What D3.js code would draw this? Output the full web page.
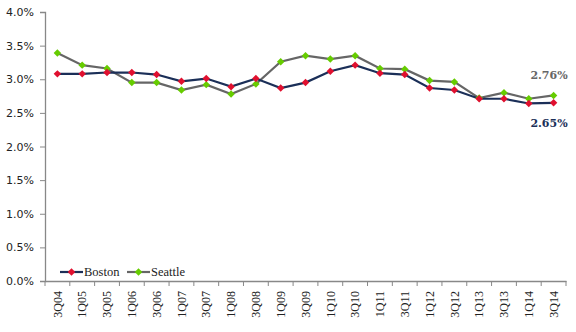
<!DOCTYPE html>
<html><head><meta charset="utf-8">
<script src="https://cdn.jsdelivr.net/npm/d3@7"></script>
<style>body{margin:0;background:#fff}svg{display:block}</style>
</head><body><svg id="c" width="576" height="332"></svg>
<script>
const categories = ["3Q04","1Q05","3Q05","1Q06","3Q06","1Q07","3Q07","1Q08","3Q08","1Q09","3Q09","1Q10","3Q10","1Q11","3Q11","1Q12","3Q12","1Q13","3Q13","1Q14","3Q14"];
const boston  = [3.08,3.08,3.10,3.10,3.07,2.97,3.01,2.89,3.01,2.87,2.95,3.12,3.21,3.09,3.07,2.87,2.84,2.71,2.71,2.64,2.65];
const seattle = [3.39,3.21,3.16,2.95,2.95,2.84,2.92,2.78,2.93,3.26,3.35,3.30,3.35,3.16,3.15,2.98,2.96,2.72,2.80,2.71,2.76];
const yTicks = [0,0.5,1,1.5,2,2.5,3,3.5,4];
const seriesNames = ["Boston","Seattle"];
const endLabels = ["2.65%","2.76%"];

const svg = d3.select("#c");
const x = d3.scaleBand().domain(categories).range([45,566]);
const y = d3.scaleLinear().domain([0,4]).range([281,12]);
const series = [
  {name: seriesNames[0], values: boston, line: "#1b2f58", marker: "#e0102f"},
  {name: seriesNames[1], values: seattle, line: "#666666", marker: "#66cc00"}
];

// Y axis
const ya = svg.append("g").attr("transform","translate(45,0)")
  .call(d3.axisLeft(y).tickValues(yTicks).tickSize(5).tickPadding(6).tickFormat(d=>d.toFixed(1)+"%"));
ya.select(".domain").attr("stroke","#888").attr("stroke-width",1.3);
ya.selectAll(".tick line").attr("stroke","#888");
ya.selectAll("text").attr("font-family","DejaVu Sans, Verdana, sans-serif").attr("font-size",11).attr("fill","#222");

// X axis
const xa = svg.append("g").attr("transform","translate(0,281)")
  .call(d3.axisBottom(x).tickSize(0).tickPadding(0));
xa.select(".domain").attr("stroke","#888").attr("stroke-width",1.3);
xa.selectAll(".tick text")
  .attr("font-family","Liberation Serif, Times New Roman, serif").attr("font-size",12).attr("fill","#222")
  .attr("transform","rotate(-90)").attr("text-anchor","end").attr("dy","0.35em").attr("x",-10).attr("y",0);
// boundary ticks
const bounds = categories.map(c=>x(c)).concat([x.range()[1]]);
xa.selectAll(".btick").data(bounds).join("line").attr("class","btick")
  .attr("x1",d=>d).attr("x2",d=>d).attr("y1",0).attr("y2",5).attr("stroke","#888");

const cx = c => x(c) + x.bandwidth()/2;
const line = d3.line().x((d,i)=>cx(categories[i])).y(d=>y(d));
const diamond = d3.symbol().type(d3.symbolDiamond2 || d3.symbolDiamond).size(40);

series.slice().reverse().forEach(s=>{
  svg.append("path").datum(s.values).attr("d",line).attr("fill","none")
    .attr("stroke",s.line).attr("stroke-width",2.2);
});
series.slice().reverse().forEach(s=>{
  svg.append("g").selectAll("path").data(s.values).join("path")
    .attr("d", d3.symbol().type(d3.symbolSquare).size(28))
    .attr("transform",(d,i)=>`translate(${cx(categories[i])},${y(d)}) rotate(45)`)
    .attr("fill",s.marker);
});

// end labels
const last = categories.length-1;
svg.append("text").attr("x",549).attr("y",y(boston[last])+24).attr("text-anchor","middle")
  .attr("font-family","DejaVu Serif, Georgia, serif").attr("font-weight","bold").attr("font-size",11)
  .attr("fill","#1b2f58").text(endLabels[0]);
svg.append("text").attr("x",549).attr("y",y(seattle[last])-16).attr("text-anchor","middle")
  .attr("font-family","DejaVu Serif, Georgia, serif").attr("font-weight","bold").attr("font-size",11)
  .attr("fill","#666666").text(endLabels[1]);

// legend
const lg = svg.append("g").attr("transform","translate(0,272)");
const lx = [60,127];
series.forEach((s,i)=>{
  lg.append("line").attr("x1",lx[i]).attr("x2",lx[i]+23).attr("y1",0).attr("y2",0).attr("stroke",s.line).attr("stroke-width",2.2);
  lg.append("path").attr("d",d3.symbol().type(d3.symbolSquare).size(28)).attr("transform",`translate(${lx[i]+11.5},0) rotate(45)`).attr("fill",s.marker);
  lg.append("text").attr("x",lx[i]+24).attr("y",0).attr("dy","0.35em")
    .attr("font-family","Liberation Serif, Times New Roman, serif").attr("font-size",12.5).attr("fill","#222").text(s.name);
});
</script></body></html>
